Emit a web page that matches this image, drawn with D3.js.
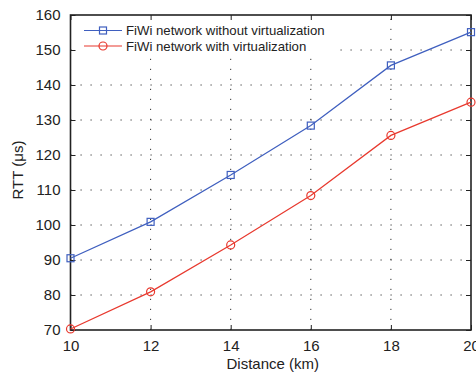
<!DOCTYPE html>
<html>
<head>
<meta charset="utf-8">
<script src="https://cdn.jsdelivr.net/npm/d3@7"></script>
<style>
  html, body { margin: 0; padding: 0; background: #fff; overflow: hidden; }
  svg { display: block; font-family: "Liberation Sans", Arial, sans-serif; }
</style>
</head>
<body>
<svg id="chart" width="476" height="374"></svg>
<script>
const distances = [10, 12, 14, 16, 18, 20];
const withoutVirt = [90.5, 100.9, 114.3, 128.4, 145.6, 155.1];
const withVirt = [70.3, 80.9, 94.3, 108.4, 125.6, 135.1];
const xTicks = [10, 12, 14, 16, 18, 20];
const yTicks = [70, 80, 90, 100, 110, 120, 130, 140, 150, 160];
const seriesNames = ["FiWi network without virtualization", "FiWi network with virtualization"];
const seriesColors = ["#3f5fbf", "#e8392e"];

(function () {
const svg = d3.select("#chart");
const pLeft = 70.5, pRight = 471, pTop = 15, pBottom = 330;

const x = d3.scaleLinear().domain([10, 20]).range([pLeft, pRight]);
const y = d3.scaleLinear().domain([70, 160]).range([pBottom, pTop]);

// grid
const grid = svg.append("g").attr("stroke", "#333").attr("stroke-width", 1)
  .attr("stroke-dasharray", "1.2,8.8");
xTicks.slice(1, -1).forEach(v => {
  grid.append("line").attr("x1", x(v)).attr("x2", x(v)).attr("y1", pBottom).attr("y2", pTop);
});
yTicks.slice(1, -1).forEach(v => {
  grid.append("line").attr("y1", y(v)).attr("y2", y(v)).attr("x1", pLeft).attr("x2", pRight);
});

// legend background masks grid
svg.append("rect").attr("x", 73).attr("y", 17).attr("width", 262).attr("height", 40).attr("fill", "#fff");

// axes (ticks inward, mirrored)
const fontSize = 15;
const axB = d3.axisBottom(x).tickValues(xTicks).tickSizeInner(-5).tickSizeOuter(0).tickPadding(10).tickFormat(d3.format("d"));
const axL = d3.axisLeft(y).tickValues(yTicks).tickSizeInner(-5).tickSizeOuter(0).tickPadding(10).tickFormat(d3.format("d"));
const axT = d3.axisTop(x).tickValues(xTicks).tickSizeInner(-5).tickSizeOuter(0).tickFormat("");
const axR = d3.axisRight(y).tickValues(yTicks).tickSizeInner(-5).tickSizeOuter(0).tickFormat("");

function style(g) {
  g.selectAll("path").remove();
  g.selectAll("line").attr("stroke", "#222").attr("stroke-width", 1);
  g.selectAll("text").attr("fill", "#222").attr("font-size", fontSize).attr("font-family", "Liberation Sans, Arial, sans-serif");
}
svg.append("g").attr("transform", `translate(0,${pBottom})`).call(axB).call(style);
svg.append("g").attr("transform", `translate(${pLeft},0)`).call(axL).call(style);
svg.append("g").attr("transform", `translate(0,${pTop})`).call(axT).call(style);
svg.append("g").attr("transform", `translate(${pRight},0)`).call(axR).call(style);

// box
svg.append("rect").attr("x", pLeft).attr("y", pTop).attr("width", pRight - pLeft).attr("height", pBottom - pTop)
  .attr("fill", "none").attr("stroke", "#222").attr("stroke-width", 1.6);

// series
const data = [withoutVirt, withVirt];
const line = d3.line().x((d, i) => x(distances[i])).y(d => y(d));
data.forEach((vals, s) => {
  const g = svg.append("g");
  g.append("path").attr("d", line(vals)).attr("fill", "none").attr("stroke", seriesColors[s]).attr("stroke-width", 1.2);
  vals.forEach((v, i) => {
    if (s === 0) {
      g.append("rect").attr("x", x(distances[i]) - 3.5).attr("y", y(v) - 3.5).attr("width", 7).attr("height", 7)
        .attr("fill", "none").attr("stroke", seriesColors[s]).attr("stroke-width", 1.2);
    } else {
      g.append("circle").attr("cx", x(distances[i])).attr("cy", y(v)).attr("r", 4)
        .attr("fill", "none").attr("stroke", seriesColors[s]).attr("stroke-width", 1.2);
    }
  });
});

// legend
const legRows = [30.5, 46];
seriesNames.forEach((name, s) => {
  const ly = legRows[s];
  svg.append("line").attr("x1", 84).attr("x2", 122).attr("y1", ly).attr("y2", ly)
    .attr("stroke", seriesColors[s]).attr("stroke-width", 1.2);
  if (s === 0) {
    svg.append("rect").attr("x", 103 - 3.5).attr("y", ly - 3.5).attr("width", 7).attr("height", 7)
      .attr("fill", "none").attr("stroke", seriesColors[s]).attr("stroke-width", 1.2);
  } else {
    svg.append("circle").attr("cx", 103).attr("cy", ly).attr("r", 4)
      .attr("fill", "none").attr("stroke", seriesColors[s]).attr("stroke-width", 1.2);
  }
  svg.append("text").attr("x", 126).attr("y", ly + 4.5).attr("font-size", 13.2).attr("fill", "#222").text(name);
});

// axis labels
svg.append("text").attr("x", (pLeft + pRight) / 2 + 2).attr("y", 369).attr("text-anchor", "middle")
  .attr("font-size", fontSize).attr("fill", "#222").text("Distance (km)");
svg.append("text").attr("transform", "translate(23,170) rotate(-90)").attr("text-anchor", "middle")
  .attr("font-size", fontSize).attr("fill", "#222").text("RTT (μs)");
})();
</script>
</body>
</html>
